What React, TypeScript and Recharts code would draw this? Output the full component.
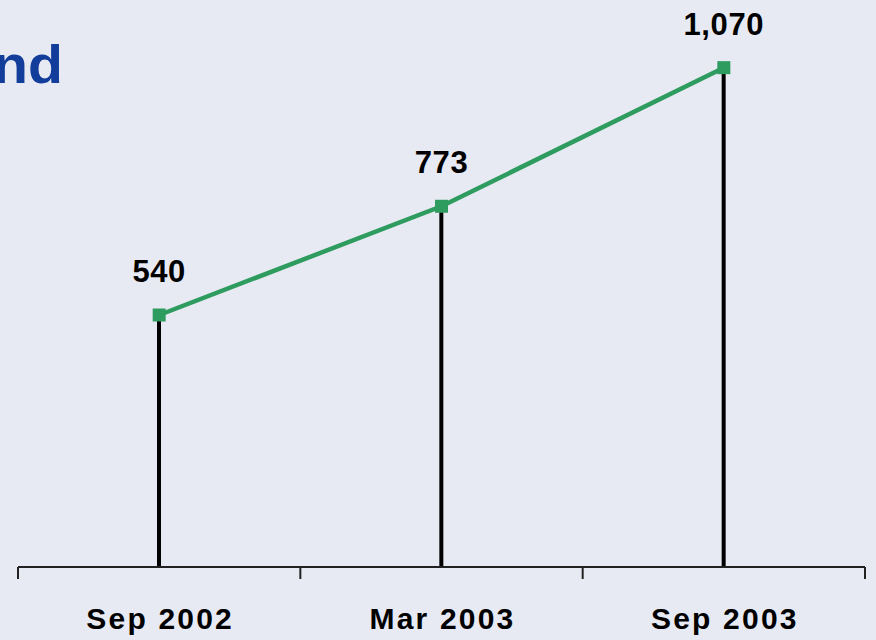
import React from "react";
import { ComposedChart, Line, Bar, XAxis, YAxis, LabelList } from "recharts";

const periods = ["Sep 2002", "Mar 2003", "Sep 2003"];
const values = [540, 773, 1070];
const boundaryTicks = [0, 1, 2, 3];
const labelTicks = [0.5, 1.5, 2.5];

const data = periods.map((p, i) => ({ pos: i + 0.5, name: p, value: values[i] }));

const GREEN = "#2E9B5F";
const BLUE = "#123D9A";
const BG = "#E7EAF3";
const FONT = "'Liberation Sans', Arial, sans-serif";

const AxisTick = (props: any) => {
  const { x, y, payload } = props;
  const v = payload.value;
  if (Number.isInteger(v)) {
    return <line x1={x} x2={x} y1={y} y2={y + 12} stroke="#222" strokeWidth={2} />;
  }
  const idx = Math.floor(v);
  return (
    <text x={x + 1} y={y + 62} textAnchor="middle" fontFamily={FONT} fontWeight="bold" fontSize={30} letterSpacing={2.2} fill="#000">
      {periods[idx]}
    </text>
  );
};

const SquareDot = (props: any) => {
  const { cx, cy, index } = props;
  return <rect key={`d${index}`} x={cx - 6.5} y={cy - 6.5} width={13} height={13} fill={GREEN} />;
};

const ValueLabel = (props: any) => {
  const { x, y, value } = props;
  return (
    <text x={x} y={y - 33} textAnchor="middle" fontFamily={FONT} fontWeight="bold" fontSize={31} letterSpacing={0.6} fill="#000">
      {Number(value).toLocaleString("en-US")}
    </text>
  );
};

export default function App() {
  return (
    <div style={{ position: "absolute", left: 0, top: 0, width: 876, height: 640, background: BG, overflow: "hidden" }}>
      <div
        style={{
          position: "absolute",
          left: -7,
          top: 38,
          fontFamily: FONT,
          fontWeight: "bold",
          fontSize: 53,
          color: BLUE,
          lineHeight: 1,
          transform: "scaleX(1.08)",
          transformOrigin: "left top",
        }}
      >
        nd
      </div>
      <ComposedChart width={876} height={640} data={data} margin={{ top: 7, left: 18, right: 11, bottom: 0 }}>
        <XAxis
          dataKey="pos"
          type="number"
          domain={[0, 3]}
          ticks={[...boundaryTicks, ...labelTicks].sort((a, b) => a - b)}
          interval={0}
          tickLine={false}
          tickSize={0}
          tickMargin={0}
          height={73}
          axisLine={{ stroke: "#222", strokeWidth: 2 }}
          tick={<AxisTick />}
        />
        <YAxis hide domain={[0, 1200]} />
        <Bar dataKey="value" barSize={4} fill="#000" isAnimationActive={false} />
        <Line
          dataKey="value"
          stroke={GREEN}
          strokeWidth={4.5}
          dot={<SquareDot />}
          activeDot={false}
          isAnimationActive={false}
        >
          <LabelList dataKey="value" content={<ValueLabel />} />
        </Line>
      </ComposedChart>
    </div>
  );
}
